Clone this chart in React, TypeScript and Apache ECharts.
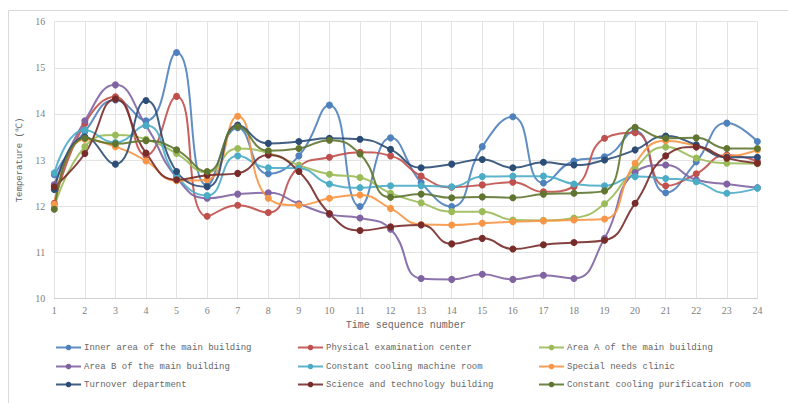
import React, { useEffect, useRef } from "react";
import * as echarts from "echarts";

// Time sequence numbers on the horizontal axis
const timePoints = [
  "1", "2", "3", "4", "5", "6", "7", "8", "9", "10", "11", "12",
  "13", "14", "15", "16", "17", "18", "19", "20", "21", "22", "23", "24",
];

// Temperature readings (°C) for each monitored location
const innerArea = [12.68, 13.62, 14.3, 13.85, 15.33, 12.45, 13.7, 12.7, 13.09, 14.19, 11.99, 13.48, 12.51, 11.99, 13.29, 13.94, 12.5, 12.98, 13.07, 13.63, 12.29, 12.96, 13.8, 13.4];
const physicalExam = [12.06, 13.79, 14.37, 13.1, 14.38, 11.78, 12.02, 11.86, 12.85, 13.06, 13.17, 13.09, 12.65, 12.41, 12.46, 12.52, 12.31, 12.42, 13.47, 13.59, 12.44, 12.7, 13.11, 12.97];
const areaA = [11.98, 13.29, 13.54, 13.45, 13.14, 12.73, 13.25, 13.15, 12.89, 12.69, 12.62, 12.28, 12.07, 11.88, 11.88, 11.7, 11.69, 11.74, 12.05, 12.82, 13.28, 13.04, 12.93, 12.92];
const areaB = [12.47, 13.85, 14.63, 13.75, 12.62, 12.17, 12.26, 12.29, 12.05, 11.82, 11.74, 11.5, 10.43, 10.41, 10.52, 10.41, 10.5, 10.43, 11.3, 12.73, 12.89, 12.57, 12.48, 12.4];
const coolingMachine = [12.72, 13.65, 13.38, 13.75, 12.65, 12.23, 13.09, 12.83, 12.82, 12.48, 12.4, 12.44, 12.44, 12.42, 12.64, 12.65, 12.65, 12.48, 12.44, 12.64, 12.6, 12.53, 12.28, 12.39];
const specialClinic = [12.04, 13.45, 13.29, 12.98, 12.55, 12.57, 13.95, 12.17, 12.02, 12.17, 12.24, 11.95, 11.6, 11.59, 11.63, 11.66, 11.68, 11.7, 11.72, 12.93, 13.42, 13.3, 13.08, 13.22];
const turnover = [12.36, 13.5, 12.91, 14.29, 12.75, 12.42, 13.76, 13.36, 13.4, 13.47, 13.45, 13.23, 12.83, 12.91, 13.01, 12.83, 12.95, 12.89, 13.0, 13.22, 13.52, 13.33, 13.06, 13.06];
const sciTech = [12.42, 13.14, 14.32, 13.15, 12.57, 12.67, 12.71, 13.11, 12.75, 11.84, 11.47, 11.55, 11.59, 11.18, 11.3, 11.07, 11.16, 11.21, 11.26, 12.06, 13.09, 13.28, 13.04, 12.93];
const purification = [11.93, 13.47, 13.35, 13.42, 13.22, 12.75, 13.72, 13.2, 13.25, 13.43, 13.13, 12.19, 12.26, 12.18, 12.2, 12.18, 12.26, 12.28, 12.33, 13.71, 13.47, 13.48, 13.25, 13.25];

const seriesNames = [
  "Inner area of the main building",
  "Physical examination center",
  "Area A of the main building",
  "Area B of the main building",
  "Constant cooling machine room",
  "Special needs clinic",
  "Turnover department",
  "Science and technology building",
  "Constant cooling purification room",
];

const seriesValues = [
  innerArea, physicalExam, areaA, areaB, coolingMachine,
  specialClinic, turnover, sciTech, purification,
];

const seriesColors = [
  "#4f81bd", "#c0504d", "#9bbb59", "#8064a2", "#4bacc6",
  "#f79646", "#2c4d75", "#772c2a", "#5f7530",
];

const yTicks = { min: 10, max: 16, interval: 1 };

const monoFont = "'Liberation Mono', 'DejaVu Sans Mono', monospace";
const serifFont = "'Liberation Serif', 'DejaVu Serif', serif";

export default function App() {
  const ref = useRef<HTMLDivElement>(null);

  useEffect(() => {
    if (!ref.current) return;
    const chart = echarts.init(ref.current, undefined, { renderer: "svg" });

    // legend laid out as a 3 x 3 table
    const colX = [55, 297, 538];
    const rowY = [343, 362, 380];
    const legends = seriesNames.map((name, i) => ({
      data: [name],
      left: colX[i % 3],
      top: rowY[Math.floor(i / 3)],
      itemWidth: 25,
      itemHeight: 7,
      itemGap: 0,
      padding: 0,
      textStyle: { fontFamily: monoFont, fontSize: 9, color: "#666666", padding: [0, 0, 0, -2] },
    }));

    chart.setOption({
      animation: false,
      backgroundColor: "#ffffff",
      graphic: [
        {
          type: "rect",
          shape: { x: 8.5, y: 10.5, width: 800, height: 400 },
          style: { fill: "none", stroke: "#d9d9d9", lineWidth: 1 },
          silent: true,
        },
      ],
      grid: { left: 54.3, right: 30.6, top: 21.7, bottom: 104.7 },
      legend: legends,
      xAxis: {
        type: "category",
        data: timePoints,
        boundaryGap: false,
        name: "Time sequence number",
        nameLocation: "middle",
        nameGap: 18,
        nameTextStyle: { fontFamily: monoFont, fontSize: 10, color: "#666666" },
        axisLine: { lineStyle: { color: "#d0d0d0" } },
        axisTick: { show: false },
        axisLabel: { fontFamily: serifFont, fontSize: 10, color: "#808080", margin: 7 },
        splitLine: { show: true, lineStyle: { color: "#e3e3e3" } },
      },
      yAxis: {
        type: "value",
        min: yTicks.min,
        max: yTicks.max,
        interval: yTicks.interval,
        name: "Temperature (℃)",
        nameLocation: "middle",
        nameGap: 25,
        nameTextStyle: { fontFamily: monoFont, fontSize: 9, color: "#666666" },
        axisLine: { show: false },
        axisTick: { show: false },
        axisLabel: { fontFamily: serifFont, fontSize: 10, color: "#808080", margin: 9 },
        splitLine: { show: true, lineStyle: { color: "#e3e3e3" } },
      },
      series: seriesNames.map((name, i) => ({
        name,
        type: "line",
        data: seriesValues[i],
        smooth: 0.5,
        symbol: "circle",
        symbolSize: 7,
        color: seriesColors[i],
        lineStyle: { width: 2, color: seriesColors[i], opacity: 0.9 },
        itemStyle: { color: seriesColors[i] },
      })),
    });

    return () => chart.dispose();
  }, []);

  return (
    <div
      ref={ref}
      style={{ position: "fixed", left: 0, top: 0, width: 788, height: 403, background: "#fff" }}
    />
  );
}
